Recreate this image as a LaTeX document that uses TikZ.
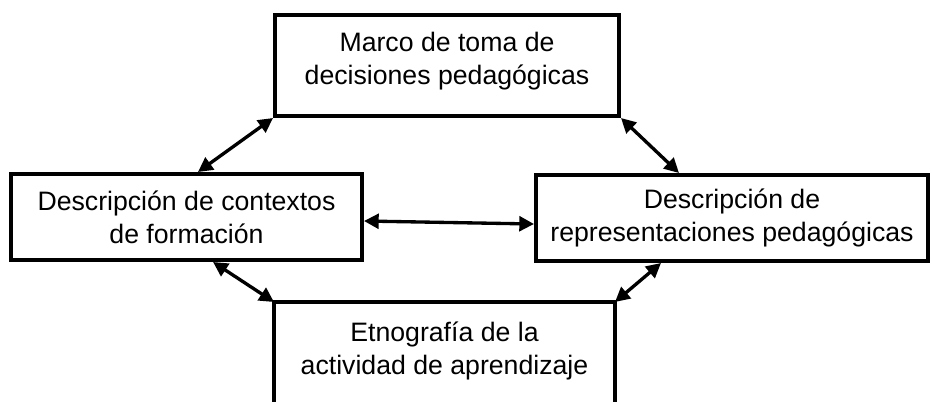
\documentclass[tikz,border=0pt]{standalone}
\usepackage{fontspec}
\setmainfont{Liberation Sans}
\usetikzlibrary{arrows.meta}

\tikzset{
  box/.style={draw, line width=3pt, rectangle, align=center, inner sep=0pt,
    font=\fontsize{20pt}{24.75pt}\selectfont},
  link/.style={line width=2.5pt, {Triangle[length=11pt,width=11pt]}-{Triangle[length=11pt,width=11pt]}}
}

\begin{document}
\begin{tikzpicture}[x=0.75pt, y=-0.75pt]
        % Frame
        \path[use as bounding box, clip] (0, 0) rectangle (932, 401);
        \fill[white] (0, 0) rectangle (932, 401);

        % Boxes
        \node[box, minimum width=258pt, minimum height=75.75pt] (mt) at (447, 65.5) {Marco de toma de\\decisiones pedagógicas\\[-14pt]};
        \node[box, minimum width=263.25pt, minimum height=64.5pt] (dc) at (186.5, 217) {Descripción de contextos\\de formación};
        \node[box, minimum width=294pt, minimum height=64.5pt] (dr) at (732, 218) {Descripción de\\representaciones pedagógicas};
        \node[box, draw=none, minimum width=252.75pt, minimum height=70.5pt] (eb) at (444.5, 351) {Etnografía de la\\actividad de aprendizaje};
        \draw[line width=3pt] ([yshift=-20pt]eb.south west) -- (eb.north west) -- (eb.north east) -- ([yshift=-20pt]eb.south east);

        % Arrows
        \draw[link] (mt.south west) -- ([xshift=8.6pt]dc.north);
        \draw[link] (mt.south east) -- ([xshift=-39.75pt]dr.north);
        \draw[link] ([yshift=-3pt]dc.east) -- ([yshift=-4.5pt]dr.west);
        \draw[link] ([xshift=19.9pt]dc.south) -- (eb.north west);
        \draw[link] ([xshift=-53.25pt]dr.south) -- (eb.north east);

\end{tikzpicture}
\end{document}
